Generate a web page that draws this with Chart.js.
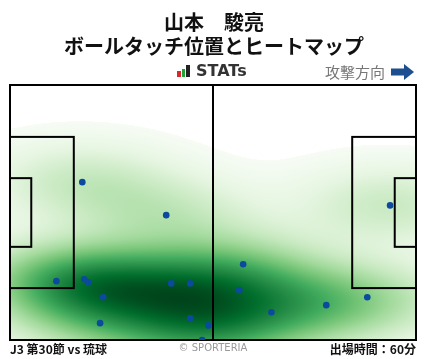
<!DOCTYPE html>
<html>
<head>
<meta charset="utf-8">
<script src="https://cdn.jsdelivr.net/npm/chart.js@4"></script>
<style>
  html, body { margin: 0; padding: 0; background: #fff; }
  #wrap { width: 428px; height: 359px; }
</style>
</head>
<body>
<div id="wrap"><canvas id="touchChart" width="428" height="359"></canvas></div>
<script>
// ball touch positions (metres, x = attacking direction, y from bottom touchline)
const touchX = [18.7, 40.4, 12.0, 19.2, 20.2, 24.1, 41.7, 46.6, 23.3, 46.6, 51.3, 49.7, 60.3, 59.3, 67.6, 81.8, 92.4, 98.3];
const touchY = [42.1, 33.3, 15.7, 16.2, 15.4, 11.4, 15.1, 15.1, 4.5, 5.8, 3.9, 0.0, 20.2, 13.3, 7.4, 9.3, 11.4, 35.9];

const titleLines = ['山本　駿亮', 'ボールタッチ位置とヒートマップ'];
const matchLabel = 'J3 第30節 vs 琉球';
const minutesLabel = '出場時間：60分';

const PITCH_L = 105, PITCH_W = 68;

// matplotlib "Greens"
const greens = ['#f7fcf5', '#e5f5e0', '#c7e9c0', '#a1d99b', '#74c476', '#41ab5d', '#238b45', '#006d2c', '#00441b'];
const greensRgb = greens.map(h => [parseInt(h.slice(1, 3), 16), parseInt(h.slice(3, 5), 16), parseInt(h.slice(5, 7), 16)]);

function greenAt(t) {
    t = Math.min(Math.max(t, 0), 1) * (greensRgb.length - 1);
    const i = Math.min(Math.floor(t), greensRgb.length - 2);
    const f = t - i;
    const a = greensRgb[i], b = greensRgb[i + 1];
    return [a[0] + (b[0] - a[0]) * f, a[1] + (b[1] - a[1]) * f, a[2] + (b[2] - a[2]) * f];
}

let heatCanvas = null;

const heatmapPlugin = {
    id: 'heatmap',
    beforeDatasetsDraw(chart) {
        const { ctx, chartArea: a, scales: { x, y } } = chart;
        const w = Math.round(a.right - a.left), h = Math.round(a.bottom - a.top);

        if (!heatCanvas) {
            // gaussian kde, scott's rule, full covariance
            const n = touchX.length;
            const mx = touchX.reduce((s, v) => s + v, 0) / n;
            const my = touchY.reduce((s, v) => s + v, 0) / n;
            let sxx = 0, syy = 0, sxy = 0;
            for (let i = 0; i < n; i++) {
                sxx += (touchX[i] - mx) ** 2;
                syy += (touchY[i] - my) ** 2;
                sxy += (touchX[i] - mx) * (touchY[i] - my);
            }
            const f2 = Math.pow(n, -1 / 3);
            const cxx = sxx / (n - 1) * f2, cyy = syy / (n - 1) * f2, cxy = sxy / (n - 1) * f2;
            const det = cxx * cyy - cxy * cxy;
            const ixx = cyy / det, iyy = cxx / det, ixy = -cxy / det;

            const dens = new Float32Array(w * h);
            let maxD = 0;
            for (let py = 0; py < h; py++) {
                const vy = y.getValueForPixel(a.top + py + 0.5);
                for (let px = 0; px < w; px++) {
                    const vx = x.getValueForPixel(a.left + px + 0.5);
                    let d = 0;
                    for (let i = 0; i < n; i++) {
                        const dx = vx - touchX[i], dy = vy - touchY[i];
                        d += Math.exp(-0.5 * (ixx * dx * dx + 2 * ixy * dx * dy + iyy * dy * dy));
                    }
                    dens[py * w + px] = d;
                    if (d > maxD) maxD = d;
                }
            }

            const thresh = 0.012;
            heatCanvas = document.createElement('canvas');
            heatCanvas.width = w;
            heatCanvas.height = h;
            const hctx = heatCanvas.getContext('2d');
            const img = hctx.createImageData(w, h);
            for (let k = 0; k < w * h; k++) {
                const r = dens[k] / maxD;
                if (r < thresh) continue;
                const c = greenAt(Math.pow((r - thresh) / (1 - thresh), 0.8));
                img.data[k * 4] = c[0];
                img.data[k * 4 + 1] = c[1];
                img.data[k * 4 + 2] = c[2];
                img.data[k * 4 + 3] = 255;
            }
            hctx.putImageData(img, 0, 0);
        }
        ctx.drawImage(heatCanvas, a.left, a.top);

        // pitch markings
        const X = v => x.getPixelForValue(v), Y = v => y.getPixelForValue(v);
        const rect = (x0, y0, x1, y1) => ctx.strokeRect(X(x0), Y(y1), X(x1) - X(x0), Y(y0) - Y(y1));
        ctx.save();
        ctx.strokeStyle = '#000';
        ctx.lineWidth = 2;
        rect(0, 0, PITCH_L, PITCH_W);
        ctx.beginPath();
        ctx.moveTo(X(PITCH_L / 2), Y(0));
        ctx.lineTo(X(PITCH_L / 2), Y(PITCH_W));
        ctx.stroke();
        const boxHalf = 40.32 / 2, sixHalf = 18.32 / 2, mid = PITCH_W / 2;
        rect(0, mid - boxHalf, 16.5, mid + boxHalf);
        rect(0, mid - sixHalf, 5.5, mid + sixHalf);
        rect(PITCH_L - 16.5, mid - boxHalf, PITCH_L, mid + boxHalf);
        rect(PITCH_L - 5.5, mid - sixHalf, PITCH_L, mid + sixHalf);
        ctx.restore();
    }
};

const textPlugin = {
    id: 'texts',
    afterDraw(chart) {
        const ctx = chart.ctx;
        const jp = '"Noto Sans CJK JP", "Noto Sans", sans-serif';
        ctx.save();
        ctx.textBaseline = 'middle';

        ctx.fillStyle = '#111';
        ctx.textAlign = 'center';
        ctx.font = 'bold 20px ' + jp;
        ctx.fillText(titleLines[0], 214, 22);
        ctx.fillText(titleLines[1], 214, 46);

        // STATs logo
        ctx.fillStyle = '#e0262a';
        ctx.fillRect(177, 71, 4, 6);
        ctx.fillStyle = '#1fa33a';
        ctx.fillRect(182, 69, 3, 8);
        ctx.fillStyle = '#222';
        ctx.fillRect(186, 65, 4, 12);
        ctx.textAlign = 'left';
        ctx.fillStyle = '#333';
        ctx.font = 'bold 16px "DejaVu Sans", sans-serif';
        ctx.fillText('STATs', 196, 72);

        // attack direction
        ctx.fillStyle = '#777';
        ctx.font = '15px ' + jp;
        ctx.textAlign = 'right';
        ctx.fillText('攻撃方向', 385, 72);
        ctx.fillStyle = '#1c4f8f';
        ctx.beginPath();
        ctx.moveTo(391, 68.5);
        ctx.lineTo(404, 68.5);
        ctx.lineTo(404, 64);
        ctx.lineTo(414, 72);
        ctx.lineTo(404, 80);
        ctx.lineTo(404, 75.5);
        ctx.lineTo(391, 75.5);
        ctx.closePath();
        ctx.fill();

        // footer
        ctx.fillStyle = '#111';
        ctx.font = 'bold 12px ' + jp;
        ctx.textAlign = 'left';
        ctx.fillText(matchLabel, 10, 349);
        ctx.textAlign = 'right';
        ctx.fillText(minutesLabel, 416, 349);
        ctx.fillStyle = '#999';
        ctx.font = '10px "DejaVu Sans", sans-serif';
        ctx.textAlign = 'center';
        ctx.fillText('© SPORTERIA', 213, 348);
        ctx.restore();
    }
};

const points = touchX.map((v, i) => ({ x: v, y: touchY[i] }));

new Chart(document.getElementById('touchChart').getContext('2d'), {
    type: 'scatter',
    data: {
        datasets: [{
            data: points,
            backgroundColor: '#0b4a9c',
            borderWidth: 0,
            pointRadius: 3.3,
            pointHoverRadius: 3.3
        }]
    },
    options: {
        responsive: false,
        animation: false,
        layout: { padding: { left: 10, right: 12, top: 85, bottom: 19 } },
        scales: {
            x: { type: 'linear', min: 0, max: PITCH_L, display: false },
            y: { type: 'linear', min: 0, max: PITCH_W, display: false }
        },
        plugins: {
            legend: { display: false },
            tooltip: { enabled: false }
        }
    },
    plugins: [heatmapPlugin, textPlugin]
});
</script>
</body>
</html>
